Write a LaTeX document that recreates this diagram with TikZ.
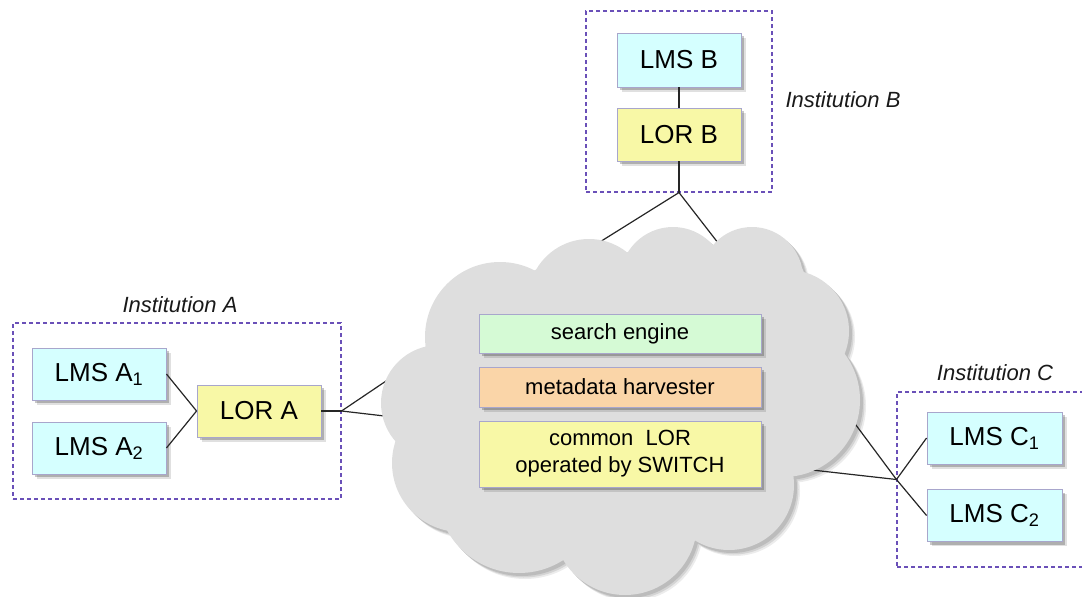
\documentclass[tikz,border=0pt]{standalone}
\usepackage{fontspec}
\setmainfont{Liberation Sans}
\usetikzlibrary{shadows}
\definecolor{lmsfill}{HTML}{D5FFFF}
\definecolor{lorfill}{HTML}{F8F8A6}
\definecolor{searchfill}{HTML}{D5FAD5}
\definecolor{harvestfill}{HTML}{FAD5A8}
\definecolor{bordercol}{HTML}{A8A6CC}
\definecolor{dashcol}{HTML}{6A50B8}
\definecolor{cloudcol}{HTML}{DEDEDE}
\definecolor{cshadowA}{HTML}{ECECEC}
\definecolor{cshadowB}{HTML}{D4D4D4}
\definecolor{cshadowC}{HTML}{BCBCBC}
\newcommand\cloudshape[1]{%
  \foreach \cx/\cy/\cr in {500/337/75, 589/300/61, 673/280/53, 752/278/51,
      788/331/61, 783/400/77, 729/485/65, 625/523/72, 519/491/82,
      461/463/69, 439/403/58}
    {\fill[#1] (\cx,\cy) circle[radius=\cr];}
  \fill[#1] (425,347) -- (535,270) -- (628,252) -- (713,245) -- (802,268)
    -- (842,357) -- (793,473) -- (695,540) -- (563,560) -- (445,528)
    -- (395,440) -- cycle;
}
\begin{document}
\begin{tikzpicture}[x=1pt, y=-1pt,
  boxshadow/.style={
    drop shadow={shadow xshift=4.5pt, shadow yshift=-4.5pt, opacity=.12, fill=black},
    drop shadow={shadow xshift=3pt, shadow yshift=-3pt, opacity=.22, fill=black}},
  box/.style={draw=bordercol, line width=0.9pt, inner sep=0pt, boxshadow,
    font=\fontsize{26}{30}\selectfont, text=black},
  lms/.style={box, fill=lmsfill, minimum width=134pt, minimum height=52pt},
  lor/.style={box, fill=lorfill, minimum width=124pt, minimum height=52pt},
  inbox/.style={box, minimum width=282pt, font=\fontsize{22}{27}\selectfont, align=center},
  inst/.style={draw=dashcol, dash pattern=on 4pt off 3pt, line width=1.1pt,
    inner sep=0pt, rectangle},
  instlabel/.style={font=\fontsize{22}{26}\selectfont\itshape, text=black!90},
  link/.style={draw=black!85, line width=1.2pt}
]
\useasboundingbox (0,0) rectangle (1082,597);
\clip (0,0) rectangle (1082,597);

% Institution A
\node[inst, minimum width=328pt, minimum height=176pt] (instA) at (177,411) {};
\node[instlabel] (labA) at (180,305) {Institution A};
\node[lms] (lmsA1) at (99,374) {LMS A\textsubscript{1}};
\node[lms] (lmsA2) at (99,448) {LMS A\textsubscript{2}};
\node[lor] (lorA) at (259,411) {LOR A};
\coordinate (jA) at (instA.east);

% Institution B
\node[inst, minimum width=186pt, minimum height=181pt] (instB) at (679,101.5) {};
\node[instlabel] (labB) at (843,100) {Institution B};
\node[lms, minimum width=124pt, minimum height=54pt] (lmsB) at (679,60) {LMS B};
\node[lor, minimum height=53pt] (lorB) at (679,134.5) {LOR B};
\coordinate (jB) at (instB.south);

% Institution C
\node[inst, minimum width=195pt, minimum height=175pt] (instC) at (994.5,479.5) {};
\node[instlabel] (labC) at (995,373) {Institution C};
\node[lms, minimum width=135pt] (lmsC1) at (994.5,438) {LMS C\textsubscript{1}};
\node[lms, minimum width=135pt] (lmsC2) at (994.5,515.5) {LMS C\textsubscript{2}};
\coordinate (jC) at (instC.west);

% cloud attachment points (hidden under the cloud)
\coordinate (cA1) at (392,377);
\coordinate (cA2) at (393,417);
\coordinate (cB1) at (595,245);
\coordinate (cB2) at (722,248);
\coordinate (cC1) at (847,413);
\coordinate (cC2) at (812,470);

% connectors inside institutions
\draw[link] (lmsA1.east) -- (lorA.west);
\draw[link] (lmsA2.east) -- (lorA.west);
\draw[link] (lorA.east) -- (jA);
\draw[link] (lmsB.south) -- (lorB.north);
\draw[link] (lorB.south) -- (jB);
\draw[link] (jC) -- (lmsC1.west);
\draw[link] (jC) -- (lmsC2.west);

% cloud shadow
\cloudshape{cshadowA, shift={(6,6)}}
\cloudshape{cshadowB, shift={(4.5,4.5)}}
\cloudshape{cshadowC, shift={(3,3)}}

% connectors to the cloud
\draw[link] (jA) -- (cA1);
\draw[link] (jA) -- (cA2);
\draw[link] (jB) -- (cB1);
\draw[link] (jB) -- (cB2);
\draw[link] (jC) -- (cC1);
\draw[link] (jC) -- (cC2);

% cloud
\cloudshape{cloudcol}

% services in the cloud
\node[inbox, fill=searchfill, minimum height=39pt] (search) at (620,333.5) {search engine};
\node[inbox, fill=harvestfill, minimum height=40pt] (harvest) at (620,387) {metadata harvester};
\node[inbox, fill=lorfill, minimum height=66pt] (common) at (620,454) {common\ \ LOR\\operated by SWITCH};
\end{tikzpicture}
\end{document}
